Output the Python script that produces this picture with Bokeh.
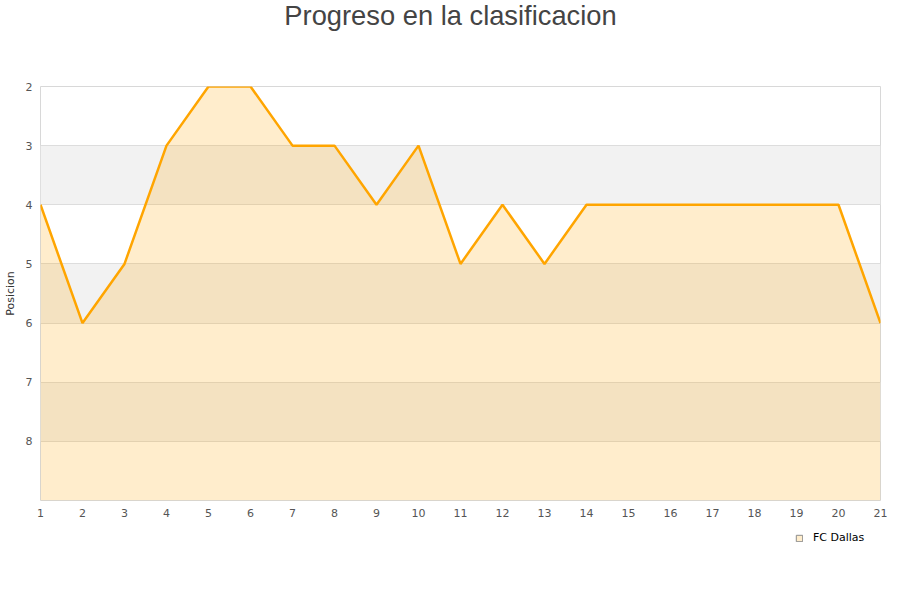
from bokeh.plotting import figure
from bokeh.layouts import column
from bokeh.models import Range1d, FixedTicker, Legend, LegendItem, ColumnDataSource
from bokeh.core.properties import value
from bokeh.embed import file_html
from bokeh.resources import INLINE

jornadas = list(range(1, 22))
posicion = [4, 6, 5, 3, 2, 2, 3, 3, 4, 3, 5, 4, 5, 4, 4, 4, 4, 4, 4, 4, 6]
y_ticks = [2, 3, 4, 5, 6, 7, 8]
y_bottom = 9
y_top = 2
team = "FC Dallas"
title = "Progreso en la clasificacion"
y_label = "Posicion"

W = 900


def bare(fig):
    fig.axis.visible = False
    fig.grid.visible = False
    fig.outline_line_color = None
    fig.background_fill_color = "white"
    fig.border_fill_color = "white"
    return fig


# --- title strip (its frame is aligned with the chart frame: 40..880 px) ---
head = bare(figure(width=W, height=40, output_backend="svg", toolbar_location=None,
                   x_range=Range1d(0, 840), y_range=Range1d(0, 40),
                   min_border=0, min_border_left=0, min_border_right=0,
                   min_border_top=0, min_border_bottom=0))
head.text(x=[410], y=[25], text=[title], text_align="center", text_baseline="middle",
          text_font=value("Liberation Sans"), text_font_size="27.3px", text_color="#444444")

# --- main chart ---
src = ColumnDataSource(dict(x=jornadas, y=posicion, base=[y_bottom] * len(jornadas)))

p = figure(width=W, height=485, output_backend="svg", toolbar_location=None,
           x_range=Range1d(1, 21), y_range=Range1d(y_bottom, y_top),
           min_border_left=40, min_border_right=20, min_border_top=46, min_border_bottom=25)

p.outline_line_color = "#d8d8d8"
p.background_fill_color = "white"
p.border_fill_color = "white"

p.xgrid.visible = False
p.ygrid.grid_line_color = "#dddddd"
p.ygrid.band_fill_color = "#f2f2f2"
p.ygrid.band_fill_alpha = 1.0

p.yaxis.ticker = FixedTicker(ticks=y_ticks)
p.xaxis.ticker = FixedTicker(ticks=jornadas)
for ax in (p.xaxis, p.yaxis):
    ax.axis_line_color = None
    ax.major_tick_line_color = None
    ax.minor_tick_line_color = None
    ax.major_tick_in = 0
    ax.major_tick_out = 0
    ax.major_label_text_font = "DejaVu Sans"
    ax.major_label_text_font_size = "11px"
    ax.major_label_text_color = "#555555"
    ax.major_label_standoff = 8
p.yaxis.axis_label = y_label
p.yaxis.axis_label_text_font = "DejaVu Sans"
p.yaxis.axis_label_text_font_size = "11px"
p.yaxis.axis_label_text_font_style = "normal"
p.yaxis.axis_label_text_color = "#333333"
p.yaxis.axis_label_standoff = 6

p.varea(x="x", y1="y", y2="base", source=src, fill_color="#ffa500", fill_alpha=0.2)
p.line(x="x", y="y", source=src, line_color="#ffa500", line_width=2.5)

# --- legend strip ---
foot = bare(figure(width=W, height=75, output_backend="svg", toolbar_location=None,
                   x_range=Range1d(-2, -1), y_range=Range1d(-2, -1),
                   min_border=0, min_border_left=0, min_border_right=0,
                   min_border_top=0, min_border_bottom=0))
# swatch renderer for the legend: the series itself, lying outside this strip's ranges
swatch = foot.quad(left="x", right="x", top="y", bottom="base", source=src,
                   fill_color="#ffa500", fill_alpha=0.2, line_color="#8c8c8c", line_width=1)
legend = Legend(items=[LegendItem(label=team, renderers=[swatch], index=0)], location=(755, 56),
                orientation="horizontal", glyph_width=8, glyph_height=8, padding=2, margin=0,
                label_text_font="DejaVu Sans", label_text_font_size="11px",
                label_text_color="#000000", label_standoff=10, label_height=12,
                border_line_color=None, background_fill_alpha=0)
foot.add_layout(legend, "center")

layout = column(head, p, foot, spacing=0)
open("out.html", "w").write(file_html(layout, INLINE))
